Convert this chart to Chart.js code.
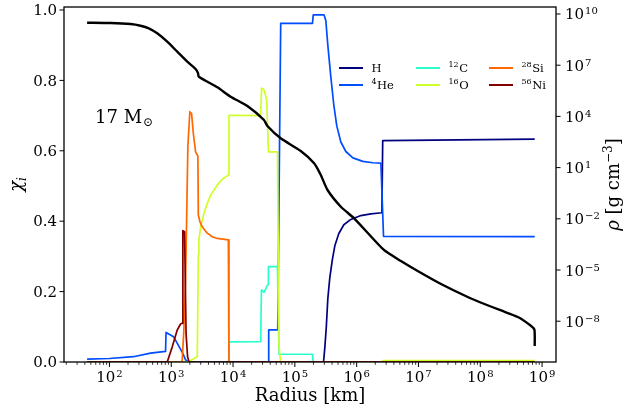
<!DOCTYPE html>
<html>
<head>
<meta charset="utf-8">
<script src="https://cdn.jsdelivr.net/npm/chart.js@4.4.0/dist/chart.umd.min.js"></script>
<style>
  html, body { margin: 0; padding: 0; background: #fff; }
  canvas { display: block; }
</style>
</head>
<body>
<canvas id="profil" width="626" height="408"></canvas>
<script>
// radius [km] and mass fraction per isotope
const rH  = [43.5, 291000, 305200, 322900, 341500, 367900, 403800, 443500, 514600, 620200, 805400, 1170000, 1699000, 2560000, 2640000, 7.6e8];
const xH  = [0, 0, 0.04, 0.10, 0.18, 0.24, 0.29, 0.33, 0.365, 0.39, 0.405, 0.416, 0.421, 0.424, 0.629, 0.633];

const rHe = [43.5, 100, 245, 462, 809, 824, 1089, 1524, 1706, 1907, 37330, 37760, 52840, 59050, 192800, 198600, 297200, 316900, 341500, 381900, 427000, 477700, 554500, 668300, 867800, 1260000, 1830000, 2467000, 2720000, 7.6e8];
const xHe = [0.008, 0.010, 0.015, 0.025, 0.030, 0.084, 0.072, 0.026, 0.006, 0, 0, 0.091, 0.091, 0.962, 0.962, 0.986, 0.986, 0.97, 0.90, 0.81, 0.73, 0.67, 0.625, 0.598, 0.580, 0.570, 0.566, 0.565, 0.357, 0.356];

const rC  = [43.5, 8500, 8600, 28000, 28770, 31700, 35080, 36810, 37330, 52240, 55500, 192800, 197000, 7.6e8];
const xC  = [0, 0, 0.057, 0.058, 0.205, 0.198, 0.214, 0.22, 0.271, 0.271, 0.022, 0.022, 0, 0];

const rO  = [43.5, 1907, 2055, 2638, 2741, 2802, 2985, 3180, 3376, 3832, 4335, 5565, 6708, 8395, 8590, 28000, 28970, 31700, 35080, 35970, 37330, 52240, 55500, 59050, 2560000, 2660000, 7.6e8];
const xO  = [0, 0, 0.004, 0.015, 0.304, 0.347, 0.384, 0.403, 0.422, 0.451, 0.474, 0.503, 0.519, 0.531, 0.701, 0.70, 0.778, 0.773, 0.744, 0.687, 0.597, 0.597, 0.04, 0, 0, 0.004, 0.004];

const rSi = [43.5, 1496, 1600, 1706, 1858, 2000, 2133, 2274, 2477, 2700, 2741, 2908, 3178, 3465, 3831, 4620, 5565, 8395, 8590, 7.6e8];
const xSi = [0, 0, 0.09, 0.233, 0.612, 0.711, 0.706, 0.65, 0.597, 0.585, 0.418, 0.399, 0.384, 0.375, 0.366, 0.356, 0.351, 0.347, 0, 0];

const rNi = [43.5, 861, 1038, 1250, 1415, 1496, 1542, 1643, 1738, 1837, 1943, 7.6e8];
const xNi = [0, 0, 0.043, 0.091, 0.108, 0.11, 0.373, 0.37, 0.08, 0.015, 0, 0];

// density [g cm^-3]
const rRho = [43.5, 103.8, 219, 318, 433.5, 593, 861, 1251, 1817, 2476, 2698, 2802, 5567, 9145, 17060, 31680, 35970, 59070, 124600, 204800, 262900, 337600, 554500, 911000, 2760000, 5206000, 9710000, 2.316e7, 6.27e7, 1.166e8, 2.174e8, 4.053e8, 6.66e8, 7.53e8, 7.6e8];
const rho  = [3.08e9, 2.96e9, 2.58e9, 2.06e9, 1.45e9, 7.38e8, 2.38e8, 6.17e7, 1.60e7, 5.97e6, 3.62e6, 2.11e6, 5.06e5, 1.43e5, 4.06e4, 6150, 2740, 520, 93.8, 17.9, 3.68, 0.488, 0.0512, 0.0107, 1.49e-4, 3.37e-5, 8.73e-6, 1.51e-6, 2.61e-7, 1.02e-7, 4.25e-8, 1.77e-8, 5.25e-9, 3.06e-9, 3.54e-10];

// tick labels
const chiTicks = [0, 0.2, 0.4, 0.6, 0.8, 1.0];
const radiusExps = [2, 3, 4, 5, 6, 7, 8, 9];
const rhoExps = [-8, -5, -2, 1, 4, 7, 10];

// legend: mass number + element
const legendMass = ['', '4', '12', '16', '28', '56'];
const legendSym = ['H', 'He', 'C', 'O', 'Si', 'Ni'];
const colors = ['#000080', '#004dff', '#29ffce', '#ceff29', '#ff6800', '#800000'];

const SERIF = '"DejaVu Serif", serif';

function pts(r, v) {
    return r.map((x, i) => ({ x: x, y: v[i] }));
}

const species = [[rH, xH], [rHe, xHe], [rC, xC], [rO, xO], [rSi, xSi], [rNi, xNi]];
const datasets = species.map((s, i) => ({
    label: legendMass[i] + legendSym[i],
    data: pts(s[0], s[1]),
    borderColor: colors[i],
    borderWidth: 1.7,
    pointRadius: 0,
    yAxisID: 'y',
    clip: 0,
    order: 6 - i
}));
datasets.push({
    label: 'rho',
    data: pts(rRho, rho),
    borderColor: '#000',
    borderWidth: 2.4,
    pointRadius: 0,
    tension: 0.2,
    yAxisID: 'rho',
    clip: 0,
    order: 0
});

function seg(ctx, x1, y1, x2, y2) {
    ctx.beginPath();
    ctx.moveTo(x1, y1);
    ctx.lineTo(x2, y2);
    ctx.stroke();
}

// "10" with a raised exponent
function powLabel(ctx, x, y, exp, align) {
    const base = '10';
    const sup = exp < 0 ? '\u2212' + (-exp) : String(exp);
    ctx.font = '15px ' + SERIF;
    const wb = ctx.measureText(base).width;
    ctx.font = '10px ' + SERIF;
    const ws = ctx.measureText(sup).width;
    const w = wb + ws + 1;
    const x0 = align === 'center' ? x - w / 2 : x;
    ctx.textAlign = 'left';
    ctx.textBaseline = 'alphabetic';
    ctx.font = '15px ' + SERIF;
    ctx.fillText(base, x0, y + 5.5);
    ctx.font = '10px ' + SERIF;
    ctx.fillText(sup, x0 + wb + 1, y + 0.5);
}

const decor = {
    id: 'decor',
    afterDatasetsDraw(chart) {
        const ctx = chart.ctx, a = chart.chartArea;
        const sx = chart.scales.x, sy = chart.scales.y, sr = chart.scales.rho;
        ctx.save();
        ctx.strokeStyle = '#000';
        ctx.fillStyle = '#000';

        // frame
        ctx.lineWidth = 1.3;
        ctx.strokeRect(a.left, a.top, a.right - a.left, a.bottom - a.top);

        // left axis
        ctx.lineWidth = 1;
        ctx.font = '15px ' + SERIF;
        ctx.textAlign = 'right';
        ctx.textBaseline = 'alphabetic';
        chiTicks.forEach(v => {
            const y = sy.getPixelForValue(v);
            seg(ctx, a.left - 4.5, y, a.left, y);
            ctx.fillText(v.toFixed(1), a.left - 7, y + 5.3);
        });

        // x axis ticks, major + minor
        const e0 = Math.floor(Math.log10(sx.min)), e1 = Math.ceil(Math.log10(sx.max));
        for (let e = e0; e <= e1; e++) {
            for (let m = 1; m <= 9; m++) {
                const v = m * Math.pow(10, e);
                if (v < sx.min || v > sx.max) continue;
                const x = sx.getPixelForValue(v);
                ctx.lineWidth = m === 1 ? 1 : 0.8;
                seg(ctx, x, a.bottom, x, a.bottom + (m === 1 ? 5 : 2.8));
            }
        }
        radiusExps.forEach(e => powLabel(ctx, sx.getPixelForValue(Math.pow(10, e)), a.bottom + 14.7, e, 'center'));

        // right axis
        ctx.lineWidth = 1;
        rhoExps.forEach(e => {
            const y = sr.getPixelForValue(Math.pow(10, e));
            seg(ctx, a.right, y, a.right + 4.5, y);
            powLabel(ctx, a.right + 9, y, e, 'left');
        });

        // axis titles
        const cx = (a.left + a.right) / 2, cy = (a.top + a.bottom) / 2;
        ctx.textAlign = 'center';
        ctx.font = '18px ' + SERIF;
        ctx.fillText('Radius [km]', cx, 401);

        ctx.save();
        ctx.translate(22, cy);
        ctx.rotate(-Math.PI / 2);
        ctx.textAlign = 'left';
        ctx.font = 'italic 18px ' + SERIF;
        const wChi = ctx.measureText('\u03c7').width;
        ctx.font = 'italic 12px ' + SERIF;
        const wI = ctx.measureText('i').width;
        let x0 = -(wChi + wI) / 2;
        ctx.font = 'italic 18px ' + SERIF;
        ctx.fillText('\u03c7', x0, 0);
        ctx.font = 'italic 12px ' + SERIF;
        ctx.fillText('i', x0 + wChi, 4);
        ctx.restore();

        ctx.save();
        ctx.translate(619, cy);
        ctx.rotate(-Math.PI / 2);
        ctx.textAlign = 'left';
        const parts = [
            ['\u03c1', 'italic 18px ' + SERIF, 0],
            [' [g cm', '18px ' + SERIF, 0],
            ['\u22123', '12px ' + SERIF, -7],
            [']', '18px ' + SERIF, 0]
        ];
        let tw = 0;
        parts.forEach(p => { ctx.font = p[1]; tw += ctx.measureText(p[0]).width; });
        let px = -tw / 2;
        parts.forEach(p => {
            ctx.font = p[1];
            ctx.fillText(p[0], px, p[2]);
            px += ctx.measureText(p[0]).width;
        });
        ctx.restore();

        // mass label
        ctx.textAlign = 'left';
        ctx.font = '18px ' + SERIF;
        ctx.fillText('17 M', 95, 123);
        const wm = ctx.measureText('17 M').width;
        ctx.font = '12px ' + SERIF;
        ctx.fillText('\u2299', 95 + wm + 1, 126);

        // legend, 3 columns x 2 rows
        const colX = [339, 416, 489];
        const rowY = [68, 85];
        legendSym.forEach((sym, i) => {
            const x = colX[Math.floor(i / 2)], y = rowY[i % 2];
            ctx.strokeStyle = colors[i];
            ctx.lineWidth = 2;
            seg(ctx, x, y, x + 24, y);
            let tx = x + 32.5;
            ctx.fillStyle = '#000';
            if (legendMass[i]) {
                ctx.font = '8px ' + SERIF;
                ctx.fillText(legendMass[i], tx, y - 1.5);
                tx += ctx.measureText(legendMass[i]).width + 0.5;
            }
            ctx.font = '11.5px ' + SERIF;
            ctx.fillText(sym, tx, y + 4);
        });

        ctx.restore();
    }
};

new Chart('profil', {
    type: 'line',
    data: { datasets: datasets },
    options: {
        responsive: false,
        animation: false,
        devicePixelRatio: 1,
        layout: { padding: { top: 7, left: 0, right: 0, bottom: 0 } },
        elements: { line: { tension: 0, borderJoinStyle: 'round' } },
        plugins: {
            legend: { display: false },
            tooltip: { enabled: false }
        },
        scales: {
            x: {
                type: 'logarithmic',
                min: 18.4,
                max: 1.68e9,
                grid: { display: false },
                border: { display: false },
                ticks: { display: false },
                afterFit(s) { s.height = 46; }
            },
            y: {
                type: 'linear',
                position: 'left',
                min: 0,
                max: 1.0085,
                grid: { display: false },
                border: { display: false },
                ticks: { display: false },
                afterFit(s) { s.width = 64; }
            },
            rho: {
                type: 'logarithmic',
                position: 'right',
                min: Math.pow(10, -10.39),
                max: Math.pow(10, 10.41),
                grid: { display: false },
                border: { display: false },
                ticks: { display: false },
                afterFit(s) { s.width = 70; }
            }
        }
    },
    plugins: [decor]
});
</script>
</body>
</html>
